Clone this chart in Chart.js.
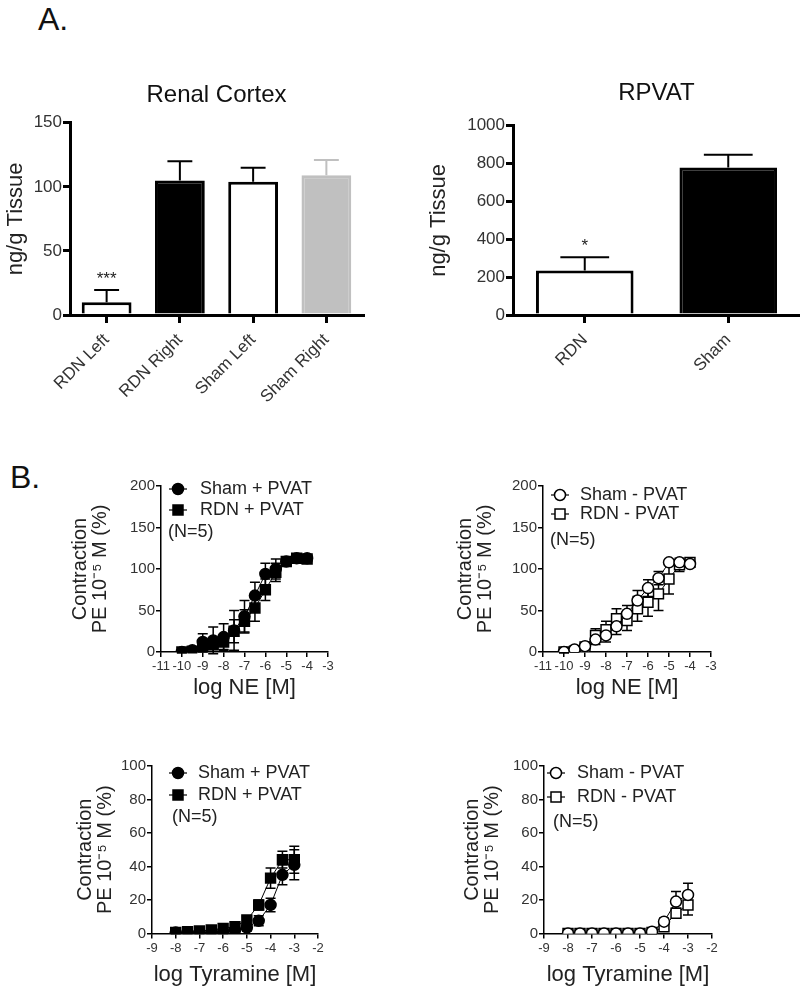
<!DOCTYPE html>
<html>
<head>
<meta charset="utf-8">
<script src="https://cdn.jsdelivr.net/npm/chart.js"></script>
<style>
  html, body { margin: 0; padding: 0; background: #fff; overflow: hidden; }
  body { width: 800px; height: 987px; position: relative; font-family: "Liberation Sans", Arial, sans-serif; }
  canvas { position: absolute; }
  .panel-label { position: absolute; font-size: 32px; color: #111; }
</style>
</head>
<body>
<div class="panel-label" style="left:38px; top:1px;">A.</div>
<div class="panel-label" style="left:10px; top:459px;">B.</div>

<canvas id="renal" width="375" height="339" style="left:0px; top:81px;"></canvas>
<canvas id="rpvat" width="377" height="341" style="left:423px; top:79px;"></canvas>
<canvas id="nePlus" width="274" height="229" style="left:66px; top:476px;"></canvas>
<canvas id="neMinus" width="272" height="229" style="left:451px; top:476px;"></canvas>
<canvas id="tyrPlus" width="259" height="236" style="left:71px; top:756px;"></canvas>
<canvas id="tyrMinus" width="266" height="236" style="left:458px; top:756px;"></canvas>

<script>
// --- Panel A: noradrenaline content ---
const renalCategories = ["RDN Left", "RDN Right", "Sham Left", "Sham Right"];
const renalMeans = [10, 105, 104, 109];
const renalSem = [9.5, 15, 11, 12];
const renalStars = ["***", "", "", ""];
const renalTicks = [0, 50, 100, 150];

const rpvatCategories = ["RDN", "Sham"];
const rpvatMeans = [235, 780];
const rpvatSem = [70, 67];
const rpvatStars = ["*", ""];
const rpvatTicks = [0, 200, 400, 600, 800, 1000];

// --- Panel B: concentration-response curves ---
const neDoses = [-10, -9.5, -9, -8.5, -8, -7.5, -7, -6.5, -6, -5.5, -5, -4.5, -4];
const neXTicks = [-11, -10, -9, -8, -7, -6, -5, -4, -3];
const neYTicks = [0, 50, 100, 150, 200];

const neShamPlus = [0, 2, 12, 14, 18, 26, 43, 68, 94, 100, 109, 113, 113];
const neShamPlusSem = [1, 2, 10, 16, 16, 24, 19, 16, 13, 12, 5, 3, 3];
const neRdnPlus = [0, 1, 5, 9, 12, 25, 37, 53, 75, 96, 109, 113, 112];
const neRdnPlusSem = [1, 2, 5, 8, 9, 14, 14, 16, 13, 11, 5, 3, 3];

const neShamMinus = [0, 3, 7, 15, 20, 31, 46, 62, 77, 89, 108, 108, 106];
const neShamMinusSem = [1, 2, 3, 6, 8, 10, 10, 12, 10, 8, 3, 3, 3];
const neRdnMinus = [0, 1, 6, 20, 27, 40, 38, 52, 60, 70, 88, 105, 108];
const neRdnMinusSem = [1, 1, 3, 8, 10, 12, 12, 15, 17, 20, 18, 8, 4];

const tyrDoses = [-8, -7.5, -7, -6.5, -6, -5.5, -5, -4.5, -4, -3.5, -3];
const tyrXTicks = [-9, -8, -7, -6, -5, -4, -3, -2];
const tyrYTicks = [0, 20, 40, 60, 80, 100];

const tyrShamPlus = [0.5, 0.5, 0.5, 0.5, 1, 2, 3.5, 7.5, 17, 35, 41];
const tyrShamPlusSem = [0.5, 0.5, 0.5, 0.5, 1, 1, 2, 3, 4, 6, 9];
const tyrRdnPlus = [0.5, 1, 1.5, 2, 3, 4, 8, 17, 33, 44, 44];
const tyrRdnPlusSem = [0.5, 0.5, 1, 1, 1, 1, 2, 3, 6, 5, 8];

const tyrShamMinus = [0, 0, 0, 0, 0, 0, 0, 1, 7, 19, 23];
const tyrShamMinusSem = [0, 0, 0, 0, 0, 0, 0, 1, 2, 6, 7];
const tyrRdnMinus = [0, 0, 0, 0, 0, 0, 0, 0.5, 4, 12, 17];
const tyrRdnMinusSem = [0, 0, 0, 0, 0, 0, 0, 0.5, 2, 3, 6];

Chart.defaults.font.family = "'Liberation Sans', Arial, sans-serif";
Chart.defaults.color = "#333";

const yValue = p => (typeof p === "number" ? p : p.y);
const plainNumber = v => String(v);

// SEM bars, drawn from the dataset's "sem" array through the y scale
function drawErrors(chart, opts) {
  const ctx = chart.ctx;
  chart.data.datasets.forEach((ds, i) => {
    if (!ds.sem) return;
    const meta = chart.getDatasetMeta(i);
    const ys = chart.scales[meta.yAxisID];
    ds.data.forEach((p, j) => {
      const v = yValue(p), e = ds.sem[j];
      if (!e) return;
      const el = meta.data[j];
      const top = ys.getPixelForValue(v + e);
      const bot = opts.upOnly ? ys.getPixelForValue(v) : ys.getPixelForValue(v - e);
      const half = el.width ? el.width * 0.25 : opts.cap / 2;
      const col = Array.isArray(ds.borderColor) ? ds.borderColor[j] : "#000";
      ctx.save();
      ctx.strokeStyle = col;
      ctx.lineWidth = opts.width;
      ctx.beginPath();
      ctx.moveTo(el.x, bot); ctx.lineTo(el.x, top);
      ctx.moveTo(el.x - half, top); ctx.lineTo(el.x + half, top);
      if (!opts.upOnly) { ctx.moveTo(el.x - half, bot); ctx.lineTo(el.x + half, bot); }
      ctx.stroke();
      ctx.restore();
    });
  });
}

const errorBars = {
  id: "errorBars",
  beforeDatasetsDraw(chart, args, opts) { if (!opts.onTop) drawErrors(chart, opts); },
  afterDatasetsDraw(chart, args, opts) { if (opts.onTop) drawErrors(chart, opts); }
};

// significance stars above the error bars
const starLabels = {
  id: "starLabels",
  afterDatasetsDraw(chart) {
    const ctx = chart.ctx;
    chart.data.datasets.forEach((ds, i) => {
      if (!ds.stars) return;
      const meta = chart.getDatasetMeta(i);
      const ys = chart.scales[meta.yAxisID];
      ds.stars.forEach((s, j) => {
        if (!s) return;
        const top = ys.getPixelForValue(ds.data[j] + ds.sem[j]);
        ctx.save();
        ctx.font = "17px 'Liberation Sans', Arial, sans-serif";
        ctx.fillStyle = "#222";
        ctx.textAlign = "center";
        ctx.textBaseline = "alphabetic";
        ctx.fillText(s, meta.data[j].x, top - 6);
        ctx.restore();
      });
    });
  }
};

function drawMarker(ctx, style, open, x, y) {
  ctx.save();
  ctx.fillStyle = open ? "#fff" : "#000";
  ctx.strokeStyle = "#000";
  ctx.lineWidth = 1.5;
  ctx.beginPath();
  if (style === "rect") ctx.rect(x - 5, y - 5, 10, 10);
  else ctx.arc(x, y, 5.5, 0, Math.PI * 2);
  ctx.fill();
  ctx.stroke();
  ctx.restore();
}

// Prism-style legend inside the plot: line + marker, label, then N note
const markerLegend = {
  id: "markerLegend",
  afterDraw(chart, args, opts) {
    const { ctx, chartArea } = chart;
    ctx.save();
    ctx.font = "18px 'Liberation Sans', Arial, sans-serif";
    ctx.fillStyle = "#222";
    ctx.textBaseline = "middle";
    chart.data.datasets.forEach((ds, k) => {
      const x = chartArea.left + opts.dx;
      const y = chartArea.top + opts.rows[k];
      ctx.strokeStyle = "#000";
      ctx.lineWidth = 1.2;
      ctx.beginPath(); ctx.moveTo(x - 9, y); ctx.lineTo(x + 9, y); ctx.stroke();
      drawMarker(ctx, ds.pointStyle, ds.pointBackgroundColor === "#fff", x, y);
      ctx.fillText(ds.label, x + opts.gap, y);
    });
    ctx.fillText(opts.note, chartArea.left + opts.noteDx, chartArea.top + opts.rows[2]);
    ctx.restore();
  }
};

function barChart(id, cfg) {
  return new Chart(document.getElementById(id), {
    type: "bar",
    data: {
      labels: cfg.labels,
      datasets: [{
        data: cfg.means,
        sem: cfg.sem,
        stars: cfg.stars,
        backgroundColor: cfg.fill,
        borderColor: cfg.edge,
        borderWidth: 3,
        barPercentage: 0.68,
        categoryPercentage: 1
      }]
    },
    options: {
      responsive: false,
      animation: false,
      layout: { padding: { top: 0, right: cfg.padRight, bottom: 0, left: 0 } },
      plugins: {
        legend: { display: false },
        tooltip: { enabled: false },
        title: {
          display: true, text: cfg.title, fullSize: false, color: "#111",
          font: { size: 24, weight: "normal" }, padding: { top: 0, bottom: cfg.titleGap }
        },
        errorBars: { onTop: true, upOnly: true, width: 2 }
      },
      scales: {
        x: {
          grid: { offset: false, drawOnChartArea: false, color: "#000", lineWidth: 3, tickLength: 8 },
          border: { color: "#000", width: 3 },
          ticks: { minRotation: 45, maxRotation: 45, font: { size: 17 }, padding: 7 },
          afterFit: s => { s.height = 105; }
        },
        y: {
          min: 0, max: cfg.ticks[cfg.ticks.length - 1],
          afterBuildTicks: s => { s.ticks = cfg.ticks.map(v => ({ value: v })); },
          grid: { drawOnChartArea: false, color: "#000", lineWidth: 3, tickLength: 7 },
          border: { color: "#000", width: 3 },
          ticks: { font: { size: 17 }, padding: 1, callback: plainNumber },
          title: { display: true, text: "ng/g Tissue", color: "#222", font: { size: 22 }, padding: { top: 3, bottom: 0 } },
          afterFit: s => { s.width = cfg.yWidth; }
        }
      }
    },
    plugins: [errorBars, starLabels]
  });
}

function doseChart(id, cfg) {
  const datasets = cfg.series.map(s => ({
    label: s.label,
    data: cfg.doses.map((d, i) => ({ x: d, y: s.values[i] })),
    sem: s.sem,
    showLine: true,
    borderColor: "#000",
    borderWidth: 1,
    pointStyle: s.marker,
    pointRadius: s.marker === "rect" ? 7 : 5.5,
    pointBackgroundColor: s.open ? "#fff" : "#000",
    pointBorderColor: "#000",
    pointBorderWidth: 1.5
  }));
  return new Chart(document.getElementById(id), {
    type: "scatter",
    data: { datasets },
    options: {
      responsive: false,
      animation: false,
      layout: { padding: { top: 10, right: 12, bottom: 0, left: 0 } },
      plugins: {
        legend: { display: false },
        tooltip: { enabled: false },
        errorBars: { onTop: false, upOnly: false, cap: 10, width: 1.5 },
        markerLegend: cfg.legend
      },
      scales: {
        x: {
          type: "linear",
          min: cfg.xTicks[0], max: cfg.xTicks[cfg.xTicks.length - 1],
          afterBuildTicks: s => { s.ticks = cfg.xTicks.map(v => ({ value: v })); },
          grid: { drawOnChartArea: false, color: "#000", lineWidth: 1.5, tickLength: 5 },
          border: { color: "#000", width: 1.5 },
          ticks: { font: { size: 13 }, padding: 2, maxRotation: 0, autoSkip: false, callback: plainNumber },
          title: { display: true, text: cfg.xTitle, color: "#222", font: { size: 22 }, padding: { top: 2, bottom: 4 } },
          afterFit: s => { s.height = cfg.xHeight; }
        },
        y: {
          min: 0, max: cfg.yTicks[cfg.yTicks.length - 1],
          afterBuildTicks: s => { s.ticks = cfg.yTicks.map(v => ({ value: v })); },
          grid: { drawOnChartArea: false, color: "#000", lineWidth: 1.5, tickLength: 5 },
          border: { color: "#000", width: 1.5 },
          ticks: { font: { size: 15 }, padding: 1, autoSkip: false, callback: plainNumber },
          title: {
            display: true, text: ["Contraction", "PE 10\u207B\u2075 M (%)"], color: "#222",
            font: { size: 20, lineHeight: 1 }, padding: { top: 4, bottom: 0 }
          },
          afterFit: s => { s.width = cfg.yWidth; }
        }
      }
    },
    plugins: [errorBars, markerLegend]
  });
}

barChart("renal", {
  labels: renalCategories, means: renalMeans, sem: renalSem, stars: renalStars, ticks: renalTicks,
  title: "Renal Cortex", titleGap: 13,
  fill: ["#fff", "#000", "#fff", "#c0c0c0"],
  edge: ["#000", "#000", "#000", "#c0c0c0"],
  yWidth: 70, padRight: 12
});

barChart("rpvat", {
  labels: rpvatCategories, means: rpvatMeans, sem: rpvatSem, stars: rpvatStars, ticks: rpvatTicks,
  title: "RPVAT", titleGap: 18,
  fill: ["#fff", "#000"],
  edge: ["#000", "#000"],
  yWidth: 90, padRight: 0
});

doseChart("nePlus", {
  doses: neDoses, xTicks: neXTicks, yTicks: neYTicks, xTitle: "log NE [M]",
  series: [
    { label: "Sham + PVAT", values: neShamPlus, sem: neShamPlusSem, marker: "circle", open: false },
    { label: "RDN + PVAT", values: neRdnPlus, sem: neRdnPlusSem, marker: "rect", open: false }
  ],
  legend: { dx: 17, gap: 22, rows: [3, 24, 46], noteDx: 7, note: "(N=5)" },
  yWidth: 95, xHeight: 53
});

doseChart("neMinus", {
  doses: neDoses, xTicks: neXTicks, yTicks: neYTicks, xTitle: "log NE [M]",
  series: [
    { label: "Sham - PVAT", values: neShamMinus, sem: neShamMinusSem, marker: "circle", open: true },
    { label: "RDN - PVAT", values: neRdnMinus, sem: neRdnMinusSem, marker: "rect", open: true }
  ],
  legend: { dx: 17, gap: 20, rows: [9, 28, 54], noteDx: 7, note: "(N=5)" },
  yWidth: 92, xHeight: 53
});

doseChart("tyrPlus", {
  doses: tyrDoses, xTicks: tyrXTicks, yTicks: tyrYTicks, xTitle: "log Tyramine [M]",
  series: [
    { label: "Sham + PVAT", values: tyrShamPlus, sem: tyrShamPlusSem, marker: "circle", open: false },
    { label: "RDN + PVAT", values: tyrRdnPlus, sem: tyrRdnPlusSem, marker: "rect", open: false }
  ],
  legend: { dx: 26, gap: 20, rows: [7, 29, 51], noteDx: 20, note: "(N=5)" },
  yWidth: 81, xHeight: 58.6
});

doseChart("tyrMinus", {
  doses: tyrDoses, xTicks: tyrXTicks, yTicks: tyrYTicks, xTitle: "log Tyramine [M]",
  series: [
    { label: "Sham - PVAT", values: tyrShamMinus, sem: tyrShamMinusSem, marker: "circle", open: true },
    { label: "RDN - PVAT", values: tyrRdnMinus, sem: tyrRdnMinusSem, marker: "rect", open: true }
  ],
  legend: { dx: 12, gap: 21, rows: [7, 31, 56], noteDx: 9, note: "(N=5)" },
  yWidth: 86, xHeight: 58.6
});
</script>
</body>
</html>
